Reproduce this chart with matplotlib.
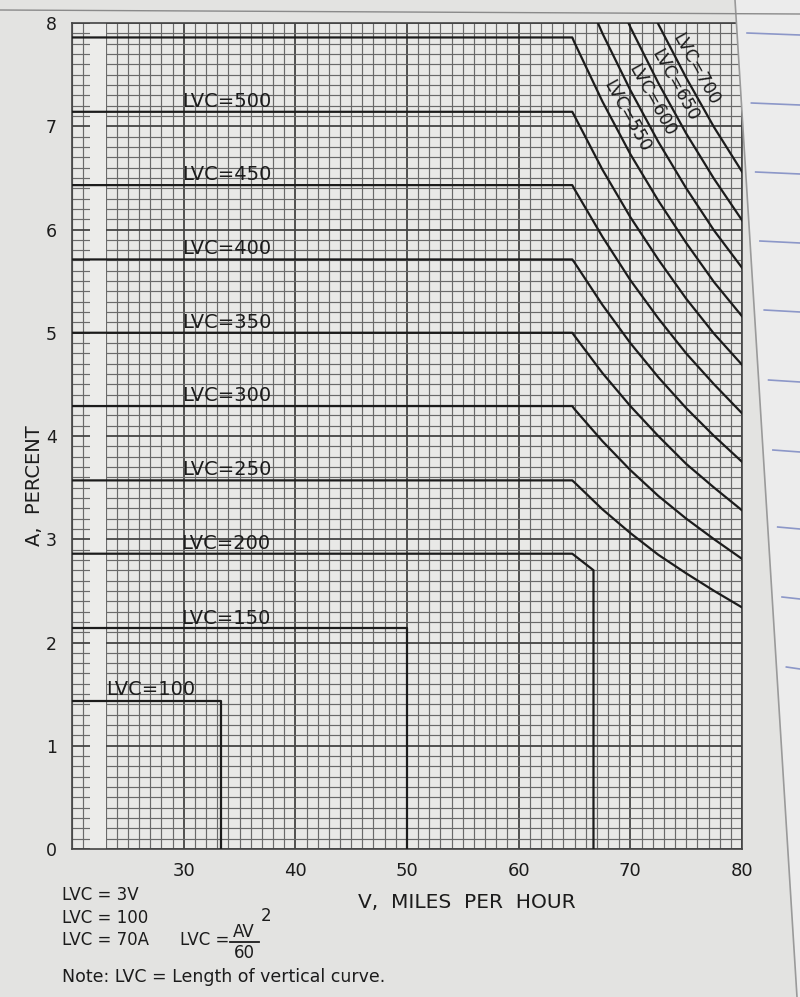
import matplotlib
matplotlib.use("Agg")
import matplotlib.pyplot as plt
from matplotlib.lines import Line2D
from matplotlib.patches import Polygon

# ---------------- data ----------------
x_ticks = [30, 40, 50, 60, 70, 80]
y_ticks = [0, 1, 2, 3, 4, 5, 6, 7, 8]

# short curves: horizontal part then vertical drop (LVC = 3V)
v_100 = [20.0, 33.3, 33.3]
a_100 = [1.43, 1.43, 0.0]
v_150 = [20.0, 50.0, 50.0]
a_150 = [2.14, 2.14, 0.0]
v_200 = [20.0, 64.8, 66.7, 66.7]
a_200 = [2.86, 2.86, 2.70, 0.0]

# long curves: horizontal (LVC = 70A) up to the knee, then LVC = AV^2/60
lvc_long = [250, 300, 350, 400, 450, 500, 550, 600, 650, 700]
a_flat_long = [3.57, 4.29, 5.00, 5.71, 6.43, 7.14, 7.86, 8.57, 9.29, 10.0]
v_knee = 64.8
v_curve = [65.0, 67.5, 70.0, 72.5, 75.0, 77.5, 80.0]
a_curve_250 = [3.55, 3.29, 3.06, 2.85, 2.67, 2.50, 2.34]
a_curve_300 = [4.26, 3.95, 3.67, 3.42, 3.20, 3.00, 2.81]
a_curve_350 = [4.97, 4.61, 4.29, 4.00, 3.73, 3.50, 3.28]
a_curve_400 = [5.68, 5.27, 4.90, 4.57, 4.27, 4.00, 3.75]
a_curve_450 = [6.39, 5.93, 5.51, 5.14, 4.80, 4.50, 4.22]
a_curve_500 = [7.10, 6.58, 6.12, 5.71, 5.33, 4.99, 4.69]
a_curve_550 = [7.81, 7.24, 6.73, 6.28, 5.87, 5.49, 5.16]
a_curve_600 = [8.52, 7.90, 7.35, 6.85, 6.40, 5.99, 5.63]
a_curve_650 = [9.23, 8.56, 7.96, 7.42, 6.93, 6.49, 6.09]
a_curve_700 = [9.94, 9.22, 8.57, 7.99, 7.47, 6.99, 6.56]

# horizontal labels
hlabel_text = ["LVC=100", "LVC=150", "LVC=200", "LVC=250", "LVC=300",
               "LVC=350", "LVC=400", "LVC=450", "LVC=500"]
hlabel_v = [23.1, 29.8, 29.8, 29.9, 29.9, 29.9, 29.9, 29.9, 29.9]
hlabel_a = [1.49, 2.18, 2.91, 3.62, 4.34, 5.05, 5.76, 6.48, 7.19]

# diagonal labels (each sits just above its own curve)
dlabel_text = ["LVC=550", "LVC=600", "LVC=650", "LVC=700"]
dlabel_v = [69.7, 71.9, 74.0, 75.9]
dlabel_a = [7.10, 7.25, 7.40, 7.55]

# ---------------- style ----------------
W, H = 800, 997
paper = "#e3e3e1"
ink = "#1c1c1c"
plt.rcParams["font.family"] = ["DejaVu Sans"]

fig = plt.figure(figsize=(W / 100, H / 100), dpi=100, facecolor=paper)

# page decorations (photo of a page on ruled notebook paper)
fig.patches.append(Polygon([[735 / W, 1], [1, 1], [1, 0], [797 / W, 0]],
                           closed=True, transform=fig.transFigure,
                           facecolor="#ececec", edgecolor="none", zorder=0))
fig.lines.append(Line2D([735 / W, 797 / W], [1, 0], transform=fig.transFigure,
                        color="#9a9a9a", lw=1.2, zorder=1))
fig.lines.append(Line2D([0, 1], [1 - 10 / H, 1 - 14 / H], transform=fig.transFigure,
                        color="#8a8a8a", lw=1.0, zorder=1))
for yy in [33, 103, 172, 241, 310, 380, 450, 527, 597, 667]:
    x0 = (737 + yy * 0.062) / W
    fig.lines.append(Line2D([x0 + 0.01, 1], [1 - yy / H, 1 - (yy + 2) / H],
                            transform=fig.transFigure, color="#8c97c8", lw=1.2, zorder=1))

ax = fig.add_axes([72 / W, 1 - 849 / H, (742 - 72) / W, (849 - 23) / H])
ax.set_facecolor("#e9e9e7")
ax.set_xlim(20, 80)
ax.set_ylim(0, 8)

# graph paper grid
ax.set_xticks(x_ticks)
ax.set_yticks(y_ticks)
ax.set_xticks([v for v in range(20, 81)], minor=True)
ax.set_yticks([i / 10 for i in range(0, 81)], minor=True)
ax.grid(which="minor", color="#6a6a6a", lw=0.85, zorder=1)
ax.grid(which="major", color="#444444", lw=1.3, zorder=1)
ax.tick_params(which="both", length=0)
ax.tick_params(axis="x", pad=9, labelsize=13, labelcolor=ink)
ax.tick_params(axis="y", pad=11, labelsize=12.5, labelcolor=ink)
for s in ax.spines.values():
    s.set_color("#444444")
    s.set_linewidth(1.2)
ax.set_axisbelow(True)
ax.set_xticklabels([str(t) for t in x_ticks])
ax.set_yticklabels([str(t) for t in y_ticks])

# blank strip in the graph paper near the left edge
ax.axvspan(21.6, 23.0, color="#ececea", zorder=2, lw=0)

# curves
lw = 1.6
ax.plot(v_100, a_100, color=ink, lw=lw, zorder=4)
ax.plot(v_150, a_150, color=ink, lw=lw, zorder=4)
ax.plot(v_200, a_200, color=ink, lw=lw, zorder=4)
curves = [a_curve_250, a_curve_300, a_curve_350, a_curve_400, a_curve_450,
          a_curve_500, a_curve_550, a_curve_600, a_curve_650, a_curve_700]
for a0, ac in zip(a_flat_long, curves):
    ax.plot([20.0, v_knee] + v_curve, [a0, a0] + ac, color=ink, lw=lw,
            zorder=4, clip_on=True)

for t, v, a in zip(hlabel_text, hlabel_v, hlabel_a):
    ax.text(v, a, t, fontsize=14, color=ink, ha="left", va="baseline", zorder=5)
for t, v, a in zip(dlabel_text, dlabel_v, dlabel_a):
    ax.text(v, a, t, fontsize=12.5, color=ink, ha="center", va="center",
            rotation=-61, rotation_mode="anchor", zorder=5)

# axis titles
fig.text(35 / W, 1 - 486 / H, "A,  PERCENT", rotation=90, ha="center", va="center",
         fontsize=14, color=ink)
fig.text(467 / W, 1 - 903 / H, "V,  MILES  PER  HOUR", ha="center", va="center",
         fontsize=14.5, color=ink)

# notes
fs = 12
fig.text(62 / W, 1 - 895 / H, "LVC = 3V", ha="left", va="center", fontsize=fs, color=ink)
fig.text(62 / W, 1 - 918 / H, "LVC = 100", ha="left", va="center", fontsize=fs, color=ink)
fig.text(62 / W, 1 - 940 / H, "LVC = 70A", ha="left", va="center", fontsize=fs, color=ink)
fig.text(180 / W, 1 - 940 / H, "LVC =", ha="left", va="center", fontsize=fs, color=ink)
fig.text(244 / W, 1 - 932 / H, "AV", ha="center", va="center", fontsize=fs, color=ink)
fig.lines.append(Line2D([230 / W, 259 / W], [1 - 942 / H, 1 - 942 / H],
                        transform=fig.transFigure, color=ink, lw=1.3))
fig.text(244 / W, 1 - 953 / H, "60", ha="center", va="center", fontsize=fs, color=ink)
fig.text(266 / W, 1 - 916 / H, "2", ha="center", va="center", fontsize=fs, color=ink)
fig.text(62 / W, 1 - 977 / H, "Note: LVC = Length of vertical curve.", ha="left",
         va="center", fontsize=12.5, color=ink)

fig.savefig("out.png", dpi=100, facecolor=paper)
